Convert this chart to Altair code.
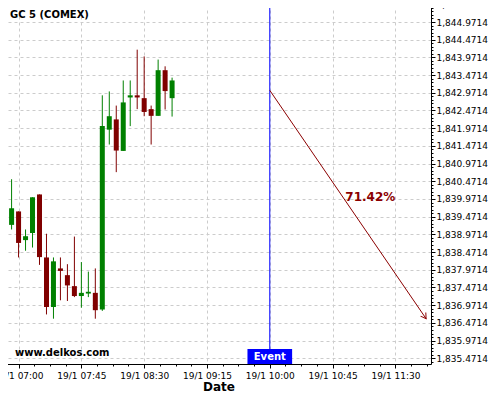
import altair as alt
import pandas as pd

DAY = "2021-01-19"

# 5-minute candles
times = ["06:55", "07:00", "07:05", "07:10", "07:15", "07:20", "07:25", "07:30",
         "07:35", "07:40", "07:45", "07:50", "07:55", "08:00", "08:05", "08:10",
         "08:15", "08:20", "08:25", "08:30", "08:35", "08:40", "08:45", "08:50"]
opens = [1839.24, 1839.62, 1838.81, 1839.01, 1840.10, 1838.32, 1836.92, 1838.01,
         1837.82, 1837.51, 1837.23, 1837.30, 1837.32, 1836.85, 1841.93, 1842.22,
         1841.33, 1842.84, 1842.90, 1842.82, 1842.51, 1842.32, 1843.61, 1842.82]
highs = [1840.53, 1839.62, 1839.11, 1840.02, 1840.10, 1838.99, 1838.32, 1838.32,
         1838.13, 1838.91, 1838.19, 1837.92, 1838.01, 1842.90, 1843.01, 1842.61,
         1843.32, 1843.32, 1844.19, 1844.00, 1842.61, 1843.91, 1843.72, 1843.40]
lows = [1839.11, 1838.32, 1838.51, 1838.60, 1838.11, 1836.71, 1836.59, 1837.11,
        1837.09, 1837.20, 1836.90, 1837.20, 1836.59, 1836.81, 1841.51, 1840.73,
        1841.33, 1842.03, 1842.51, 1842.31, 1841.51, 1842.32, 1842.50, 1842.30]
closes = [1839.71, 1838.73, 1838.92, 1840.02, 1838.33, 1836.92, 1838.21, 1837.94,
          1837.53, 1837.23, 1837.32, 1837.35, 1836.83, 1842.03, 1842.31, 1841.34,
          1842.70, 1842.90, 1842.84, 1842.43, 1842.32, 1843.61, 1843.02, 1843.32]

event_time = "10:00"
event_box = ["09:44", "10:16"]
arrow_times = ["10:00", "11:52"]
arrow_values = [1843.04, 1836.59]
pct_label = "71.42%"
pct_time = "11:12"
pct_value = 1840.03

y_ticks = [round(1835.4714 + 0.5 * k, 4) for k in range(21)]
y_minor = [round(1835.3714 + 0.1 * k, 4) for k in range(102)]


def ts(hm):
    return f"{DAY}T{hm}:00"


def dt(h, m, s=0):
    return alt.DateTime(year=2021, month=1, date=19, hours=h, minutes=m, seconds=s)


df = pd.DataFrame({
    "t": [ts(t) for t in times],
    "open": opens, "high": highs, "low": lows, "close": closes,
})
df["dir"] = ["up" if c >= o else "down" for o, c in zip(opens, closes)]

x_major = [dt(7, 0), dt(7, 45), dt(8, 30), dt(9, 15), dt(10, 0), dt(10, 45), dt(11, 30)]
x_minor = []
sec = 7 * 3600
while sec <= 11 * 3600 + 55 * 60:
    x_minor.append(dt(sec // 3600, (sec % 3600) // 60, sec % 60))
    sec += 675

xs = alt.Scale(domain=[dt(6, 51), dt(11, 55, 30)], nice=False, padding=0)
ys = alt.Scale(domain=[1835.31, 1845.48], zero=False, nice=False, padding=0)
color = alt.Color("dir:N", scale=alt.Scale(domain=["up", "down"], range=["#008000", "#800000"]), legend=None)

axis_x = alt.Axis(orient="bottom", values=x_major, format="%-d/%-m %H:%M", formatType="time",
                  labelFlush=False, labelOverlap=False, tickSize=4, labelPadding=3,
                  grid=True, gridDash=[3, 3], gridColor="#cccccc",
                  title="Date", titleFontSize=12, titleFontWeight="bold", titlePadding=1)
axis_y = alt.Axis(orient="right", values=y_ticks, format=",.4f", tickSize=4, labelPadding=1,
                  grid=True, gridDash=[3, 3], gridColor="#cccccc", title=None, labelFlush=False,
                  labelOverlap=False)
axis_x_minor = alt.Axis(orient="bottom", values=x_minor, labels=False, tickSize=2, grid=False,
                        domain=False, title=None)
axis_y_minor = alt.Axis(orient="right", values=y_minor, labels=False, tickSize=2, grid=False,
                        domain=False, title=None)

base = alt.Chart(df)

wicks = base.mark_rule(strokeWidth=1).encode(
    x=alt.X("t:T", scale=xs, axis=axis_x),
    y=alt.Y("low:Q", scale=ys, axis=axis_y),
    y2="high:Q",
    color=color,
)
bodies = base.mark_bar(size=5).encode(
    x=alt.X("t:T", axis=None),
    y=alt.Y("open:Q", axis=None),
    y2="close:Q",
    color=color,
)
minor = base.mark_point(opacity=0).encode(
    x=alt.X("t:T", axis=axis_x_minor),
    y=alt.Y("low:Q", axis=axis_y_minor),
)

ev = pd.DataFrame({"t": [ts(event_time)], "t0": [ts(event_box[0])], "t1": [ts(event_box[1])]})
event_rule = alt.Chart(ev).mark_rule(color="#0000ff", strokeWidth=1).encode(x=alt.X("t:T", axis=None))
event_rect = alt.Chart(ev).mark_rect(color="#0000ff").encode(
    x=alt.X("t0:T", axis=None), x2="t1:T", y=alt.value(345), y2=alt.value(360))
event_text = alt.Chart(ev).mark_text(text="Event", color="white", fontWeight="bold", fontSize=10,
                                     font="DejaVu Sans", baseline="middle").encode(
    x=alt.X("t:T", axis=None), y=alt.value(353))

arr = pd.DataFrame({"t": [ts(t) for t in arrow_times], "v": arrow_values})
arrow_line = alt.Chart(arr).mark_line(color="#8b0000", strokeWidth=1).encode(
    x=alt.X("t:T", axis=None), y=alt.Y("v:Q", axis=None))
arrow_head = alt.Chart(arr.tail(1)).mark_point(
    shape="M -0.6 -1 L 0 0 L 0.6 -1", filled=False, size=110, angle=326,
    color="#8b0000", strokeWidth=1, opacity=1).encode(
    x=alt.X("t:T", axis=None), y=alt.Y("v:Q", axis=None))

pct = pd.DataFrame({"t": [ts(pct_time)], "v": [pct_value], "label": [pct_label]})
pct_text = alt.Chart(pct).mark_text(fontSize=12, fontWeight="bold", color="#8b0000",
                                    font="DejaVu Sans").encode(
    x=alt.X("t:T", axis=None), y=alt.Y("v:Q", axis=None), text="label:N")

one = pd.DataFrame({"a": [0]})
title_text = alt.Chart(one).mark_text(text="GC 5 (COMEX)", fontSize=10, fontWeight="bold",
                                      font="DejaVu Sans", align="left", baseline="middle",
                                      color="black").encode(x=alt.value(4), y=alt.value(11))
site_text = alt.Chart(one).mark_text(text="www.delkos.com", fontSize=10, fontWeight="bold",
                                     font="DejaVu Sans", align="left", baseline="middle",
                                     color="black").encode(x=alt.value(9), y=alt.value(349))

chart = alt.layer(
    wicks, bodies, minor, event_rule, event_rect, event_text,
    arrow_line, arrow_head, pct_text, title_text, site_text,
).resolve_axis(x="independent", y="independent").properties(
    width=425, height=360,
    autosize=alt.AutoSizeParams(type="none"),
    padding={"left": -2, "top": -4, "right": 61, "bottom": 28},
).configure_view(stroke=None).configure_axis(
    labelFont="DejaVu Sans", labelFontSize=9, labelColor="black",
    titleFont="DejaVu Sans", titleColor="black",
    tickColor="black", domainColor="black",
)

chart.save("out.html", embed_options={"renderer": "svg", "actions": False})
